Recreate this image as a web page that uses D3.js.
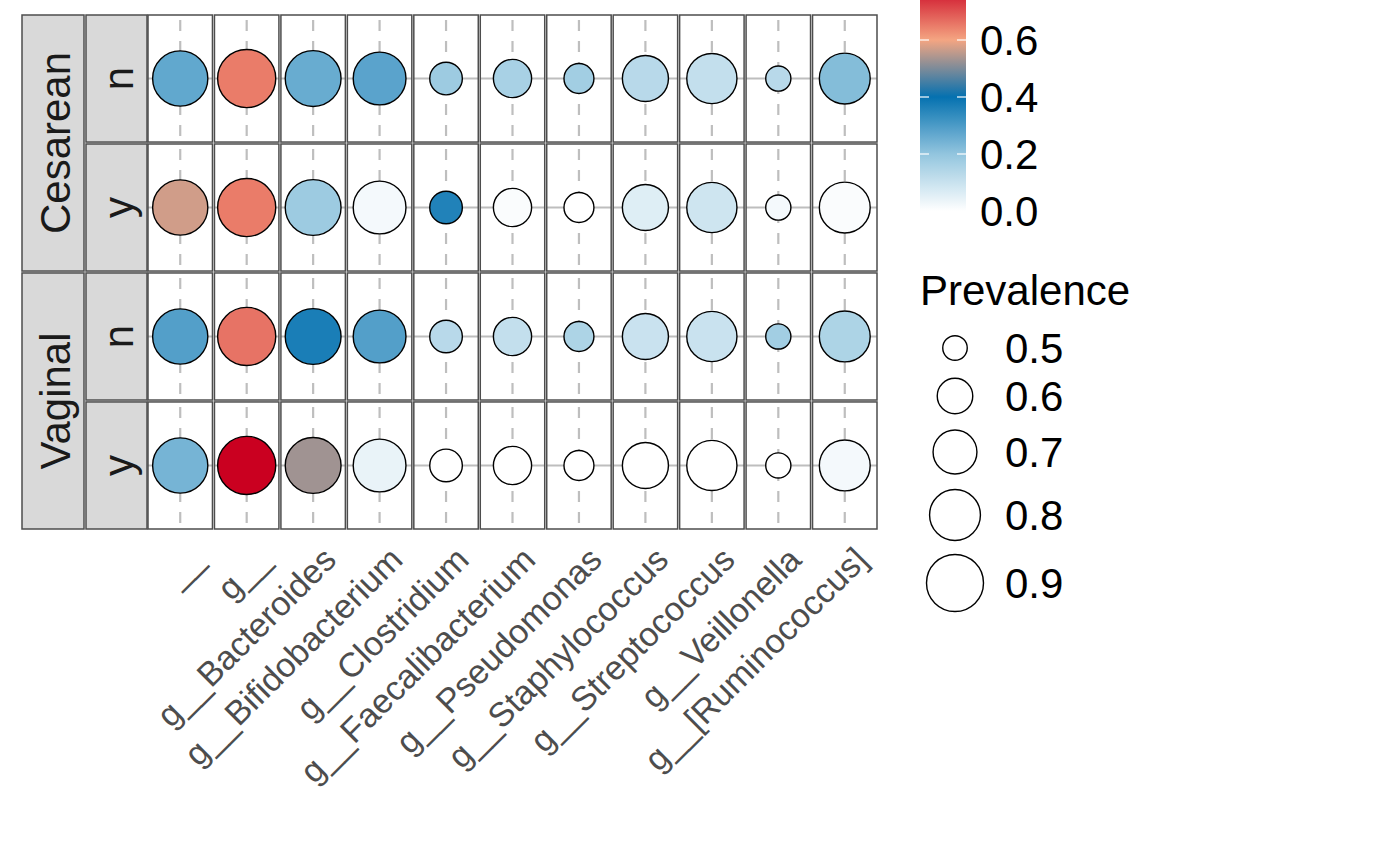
<!DOCTYPE html>
<html><head><meta charset="utf-8">
<script src="https://cdn.jsdelivr.net/npm/d3@7"></script>
<style>body{margin:0;background:#fff}svg{font-family:"Liberation Sans",Arial,sans-serif}</style>
</head><body><svg id="c" width="1400" height="866"></svg>
<script>
const genera = ["__","g__","g__Bacteroides","g__Bifidobacterium","g__Clostridium","g__Faecalibacterium","g__Pseudomonas","g__Staphylococcus","g__Streptococcus","g__Veillonella","g__[Ruminococcus]"];
const deliveries = ["Cesarean","Vaginal"];
const groups = ["n","y"];
const prevalence = [0.87,0.92,0.88,0.83,0.57,0.63,0.545,0.73,0.79,0.505,0.80];
const abundCn = [0.27,0.65,0.26,0.28,0.18,0.16,0.17,0.13,0.11,0.13,0.22];
const abundCy = [0.57,0.65,0.18,0.02,0.36,0.01,0.00,0.06,0.09,0.02,0.01];
const abundVn = [0.29,0.66,0.37,0.29,0.13,0.11,0.15,0.10,0.10,0.17,0.15];
const abundVy = [0.24,0.80,0.53,0.04,0.00,0.00,0.00,0.00,0.00,0.00,0.02];
const colorTicks = [0,0.2,0.4,0.6,0.8];
const sizeTicks = [0.5,0.6,0.7,0.8,0.9];

const rows = [
 {d:"Cesarean",g:"n",v:abundCn},{d:"Cesarean",g:"y",v:abundCy},
 {d:"Vaginal",g:"n",v:abundVn},{d:"Vaginal",g:"y",v:abundVy}];

const svg = d3.select("#c");
const color = d3.scaleLinear().domain(colorTicks).range(["#ffffff","#92c5de","#0571b0","#f4a582","#ca0020"]).clamp(true);
const area = d3.scaleLinear().domain([0.5,0.9]).range([150,812]);
const rad = v => Math.sqrt(Math.max(area(v),20));

const colX = d3.scaleBand().domain(genera).range([148,877]).paddingInner(0.03);
const rowY = d3.scaleBand().domain(d3.range(4)).range([15,529]).paddingInner(0.015);
const stroke = "#4d4d4d";
const FS = 42;

rows.forEach((r,ri)=>{
  genera.forEach((g,gi)=>{
    const x0 = colX(g), y0 = rowY(ri), w = colX.bandwidth(), h = rowY.bandwidth();
    const cx = x0+w/2, cy = y0+h/2;
    const p = svg.append("g");
    p.append("rect").attr("x",x0).attr("y",y0).attr("width",w).attr("height",h).attr("fill","#fff");
    p.append("line").attr("x1",x0).attr("x2",x0+w).attr("y1",cy).attr("y2",cy).attr("stroke","#bebebe").attr("stroke-width",2.2);
    p.append("line").attr("x1",cx).attr("x2",cx).attr("y1",y0).attr("y2",y0+h).attr("stroke","#bebebe").attr("stroke-width",2.2).attr("stroke-dasharray","11,10").attr("stroke-dashoffset",-5);
    p.append("circle").attr("cx",cx).attr("cy",cy).attr("r",rad(prevalence[gi])).attr("fill",color(r.v[gi])).attr("stroke","#000").attr("stroke-width",1.4);
    p.append("rect").attr("x",x0).attr("y",y0).attr("width",w).attr("height",h).attr("fill","none").attr("stroke",stroke).attr("stroke-width",1.5);
  });
  const y0 = rowY(ri), h=rowY.bandwidth();
  svg.append("rect").attr("x",86).attr("y",y0).attr("width",61).attr("height",h).attr("fill","#d9d9d9").attr("stroke",stroke).attr("stroke-width",1.5);
  svg.append("text").attr("transform",`translate(118,${y0+h/2}) rotate(-90)`).attr("text-anchor","middle").attr("dy","0.36em").attr("font-size",FS).attr("fill","#1a1a1a").text(r.g);
});
deliveries.forEach((d,di)=>{
  const y0 = rowY(di*2), y1 = rowY(di*2+1)+rowY.bandwidth();
  svg.append("rect").attr("x",22).attr("y",y0).attr("width",62).attr("height",y1-y0).attr("fill","#d9d9d9").attr("stroke",stroke).attr("stroke-width",1.5);
  svg.append("text").attr("transform",`translate(55,${(y0+y1)/2}) rotate(-90)`).attr("text-anchor","middle").attr("dy","0.36em").attr("font-size",FS).attr("fill","#1a1a1a").text(d);
});
genera.forEach(g=>{
  const cx = colX(g)+colX.bandwidth()/2;
  svg.append("text").attr("transform",`translate(${cx+8},${545}) rotate(-45)`).attr("text-anchor","end").attr("dy","0.7em").attr("font-size",34).attr("fill","#4d4d4d").text(g);
});
const cb = d3.scaleLinear().domain([0,0.8]).range([211,-17]);
const grad = svg.append("defs").append("linearGradient").attr("id","gr").attr("x1",0).attr("x2",0).attr("y1",1).attr("y2",0);
d3.range(0,1.0001,0.05).forEach(t=>grad.append("stop").attr("offset",t).attr("stop-color",color(t*0.8)));
svg.append("rect").attr("x",920).attr("y",cb(0.8)).attr("width",46).attr("height",cb(0)-cb(0.8)).attr("fill","url(#gr)");
colorTicks.forEach(t=>{
  const y=cb(t);
  if(t>0){
  svg.append("line").attr("x1",920).attr("x2",929).attr("y1",y).attr("y2",y).attr("stroke","#fff").attr("stroke-width",1.2);
  svg.append("line").attr("x1",957).attr("x2",966).attr("y1",y).attr("y2",y).attr("stroke","#fff").attr("stroke-width",1.2);}
  svg.append("text").attr("x",980).attr("y",y).attr("dy","0.36em").attr("font-size",FS).attr("fill","#000").text(t.toFixed(1));
});
svg.append("text").attr("x",920).attr("y",305).attr("font-size",FS).attr("fill","#000").text("Prevalence");
const sy = [348,396,452,515,583];
sizeTicks.forEach((t,i)=>{
  svg.append("circle").attr("cx",955).attr("cy",sy[i]).attr("r",rad(t)).attr("fill","#fff").attr("stroke","#000").attr("stroke-width",1.4);
  svg.append("text").attr("x",1005).attr("y",sy[i]).attr("dy","0.36em").attr("font-size",FS).attr("fill","#000").text(t.toFixed(1));
});
</script></body></html>
